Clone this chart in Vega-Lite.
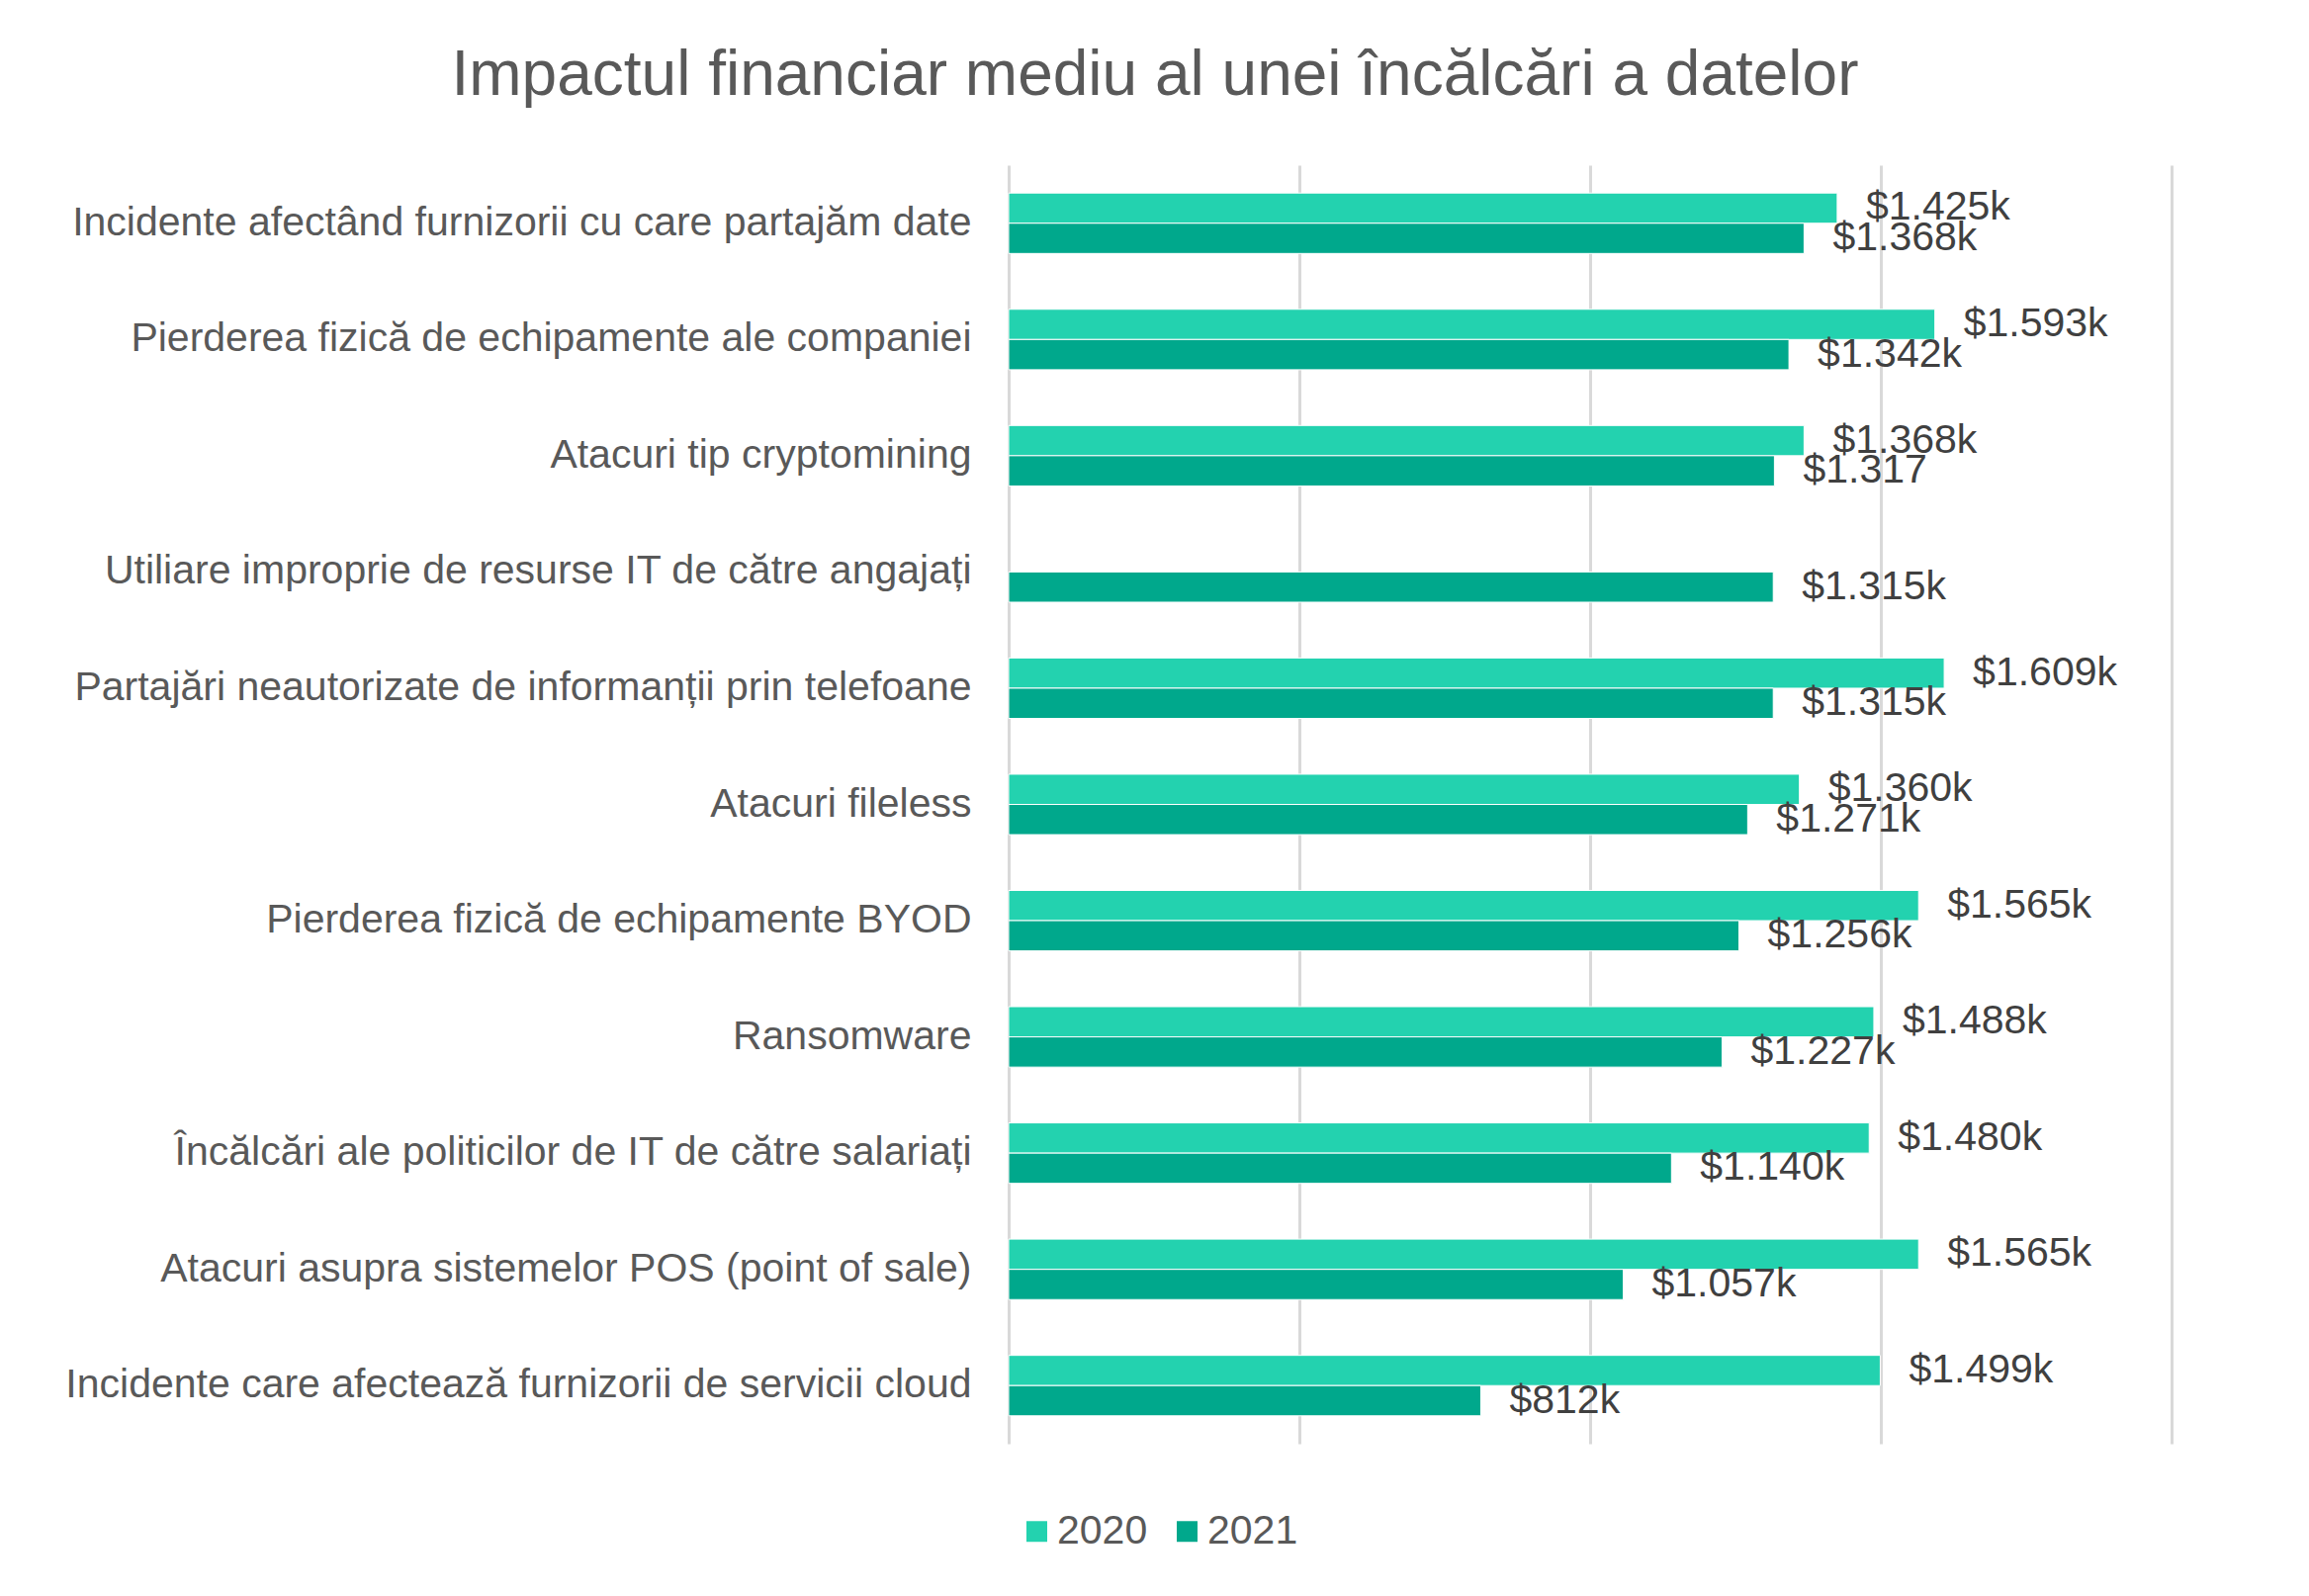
{
  "$schema": "https://vega.github.io/schema/vega-lite/v6.json",
  "autosize": "none",
  "width": 1176,
  "height": 1293,
  "padding": {"left": 1020, "top": 167, "right": 139, "bottom": 154},
  "background": "white",
  "title": {
    "text": "Impactul financiar mediu al unei încălcări a datelor",
    "font": "Liberation Sans",
    "fontSize": 64,
    "fontWeight": "normal",
    "color": "#595959",
    "anchor": "middle",
    "dx": -440,
    "offset": 58
  },
  "config": {
    "font": "Liberation Sans",
    "view": {"stroke": null}
  },
  "data": {
    "values": [
      {"category": "Incidente afectând furnizorii cu care partajăm date", "year": "2020", "value": 1425, "label": "$1.425k"},
      {"category": "Incidente afectând furnizorii cu care partajăm date", "year": "2021", "value": 1368, "label": "$1.368k"},
      {"category": "Pierderea fizică de echipamente ale companiei", "year": "2020", "value": 1593, "label": "$1.593k"},
      {"category": "Pierderea fizică de echipamente ale companiei", "year": "2021", "value": 1342, "label": "$1.342k"},
      {"category": "Atacuri tip cryptomining", "year": "2020", "value": 1368, "label": "$1.368k"},
      {"category": "Atacuri tip cryptomining", "year": "2021", "value": 1317, "label": "$1.317"},
      {"category": "Utiliare improprie de resurse IT de către angajați", "year": "2021", "value": 1315, "label": "$1.315k"},
      {"category": "Partajări neautorizate de informanții prin telefoane", "year": "2020", "value": 1609, "label": "$1.609k"},
      {"category": "Partajări neautorizate de informanții prin telefoane", "year": "2021", "value": 1315, "label": "$1.315k"},
      {"category": "Atacuri fileless", "year": "2020", "value": 1360, "label": "$1.360k"},
      {"category": "Atacuri fileless", "year": "2021", "value": 1271, "label": "$1.271k"},
      {"category": "Pierderea fizică de echipamente BYOD", "year": "2020", "value": 1565, "label": "$1.565k"},
      {"category": "Pierderea fizică de echipamente BYOD", "year": "2021", "value": 1256, "label": "$1.256k"},
      {"category": "Ransomware", "year": "2020", "value": 1488, "label": "$1.488k"},
      {"category": "Ransomware", "year": "2021", "value": 1227, "label": "$1.227k"},
      {"category": "Încălcări ale politicilor de IT de către salariați", "year": "2020", "value": 1480, "label": "$1.480k"},
      {"category": "Încălcări ale politicilor de IT de către salariați", "year": "2021", "value": 1140, "label": "$1.140k"},
      {"category": "Atacuri asupra sistemelor POS (point of sale)", "year": "2020", "value": 1565, "label": "$1.565k"},
      {"category": "Atacuri asupra sistemelor POS (point of sale)", "year": "2021", "value": 1057, "label": "$1.057k"},
      {"category": "Incidente care afectează furnizorii de servicii cloud", "year": "2020", "value": 1499, "label": "$1.499k"},
      {"category": "Incidente care afectează furnizorii de servicii cloud", "year": "2021", "value": 812, "label": "$812k"}
    ]
  },
  "encoding": {
    "y": {
      "field": "category",
      "type": "nominal",
      "sort": [
        "Incidente afectând furnizorii cu care partajăm date",
        "Pierderea fizică de echipamente ale companiei",
        "Atacuri tip cryptomining",
        "Utiliare improprie de resurse IT de către angajați",
        "Partajări neautorizate de informanții prin telefoane",
        "Atacuri fileless",
        "Pierderea fizică de echipamente BYOD",
        "Ransomware",
        "Încălcări ale politicilor de IT de către salariați",
        "Atacuri asupra sistemelor POS (point of sale)",
        "Incidente care afectează furnizorii de servicii cloud"
      ],
      "scale": {"paddingInner": 0.48, "paddingOuter": 0.24},
      "axis": {
        "title": null,
        "domain": false,
        "ticks": false,
        "labelFont": "Liberation Sans",
        "labelFontSize": 41,
        "labelColor": "#595959",
        "labelPadding": 38,
        "labelLimit": 0
      }
    },
    "yOffset": {"field": "year", "type": "nominal", "sort": ["2020", "2021"]},
    "x": {
      "field": "value",
      "type": "quantitative",
      "scale": {"domain": [0, 2000], "nice": false},
      "axis": {
        "title": null,
        "values": [0, 500, 1000, 1500, 2000],
        "labels": false,
        "ticks": false,
        "domain": false,
        "grid": true,
        "gridColor": "#D9D9D9",
        "gridWidth": 3
      }
    }
  },
  "layer": [
    {
      "mark": {"type": "bar", "stroke": "white", "strokeWidth": 1},
      "encoding": {
        "color": {
          "field": "year",
          "type": "nominal",
          "scale": {"domain": ["2020", "2021"], "range": ["#23D2AF", "#00A88C"]},
          "legend": {
            "title": null,
            "orient": "none",
            "direction": "horizontal",
            "legendX": 8,
            "legendY": 1361,
            "padding": 0,
            "symbolType": "square",
            "symbolSize": 440,
            "symbolStrokeWidth": 0,
            "labelFont": "Liberation Sans",
            "labelFontSize": 41,
            "labelColor": "#595959",
            "labelOffset": 0,
            "columnPadding": 19
          }
        }
      }
    },
    {
      "mark": {"type": "text", "align": "left", "baseline": "middle", "dx": 29, "fontSize": 41, "font": "Liberation Sans", "color": "#404040"},
      "encoding": {"text": {"field": "label", "type": "nominal"}}
    }
  ]
}
